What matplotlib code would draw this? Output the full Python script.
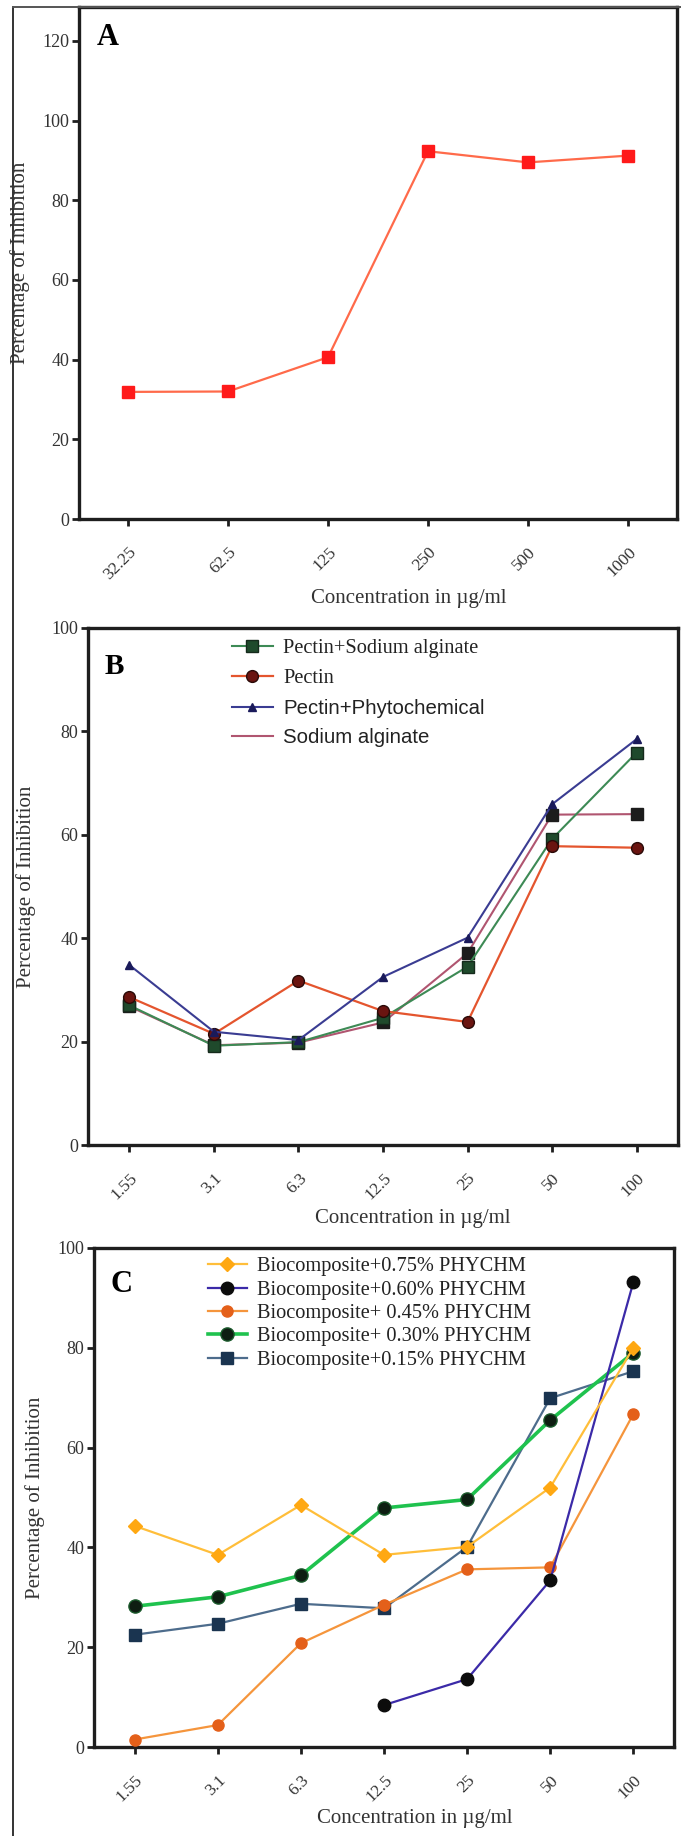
import numpy as np
import matplotlib
matplotlib.use("Agg")
import matplotlib.pyplot as plt
from matplotlib.lines import Line2D

# Panel A: single extract
conc_a = ["32.25", "62.5", "125", "250", "500", "1000"]
inhib_a = [31.9, 32.0, 40.6, 92.3, 89.5, 91.2]

# Panel B: polymer blends
conc_b = ["1.55", "3.1", "6.3", "12.5", "25", "50", "100"]
pectin_alginate = [27.0, 19.2, 19.9, 24.6, 34.5, 59.2, 75.9]
pectin = [28.6, 21.5, 31.8, 25.9, 23.8, 57.8, 57.5]
pectin_phyto = [34.8, 21.9, 20.3, 32.5, 40.1, 65.9, 78.5]
sodium_alginate = [26.8, 19.3, 19.8, 23.7, 37.1, 63.9, 64.0]

# Panel C: biocomposite with phytochemical loadings
conc_c = ["1.55", "3.1", "6.3", "12.5", "25", "50", "100"]
bio_075 = [44.3, 38.5, 48.5, 38.5, 40.1, 52.0, 80.0]
bio_060 = [np.nan, np.nan, np.nan, 8.4, 13.6, 33.4, 93.1]
bio_045 = [1.5, 4.4, 20.8, 28.5, 35.6, 36.0, 66.7]
bio_030 = [28.2, 30.1, 34.4, 47.9, 49.6, 65.5, 79.0]
bio_015 = [22.5, 24.7, 28.7, 27.8, 40.1, 69.9, 75.3]

W, H = 681, 1836
SERIF = "Liberation Serif"
SANS = "Liberation Sans"
plt.rcParams["font.family"] = SERIF
plt.rcParams["font.size"] = 13

fig = plt.figure(figsize=(W / 100, H / 100), dpi=100)


def px_axes(left, top, right, bottom):
    return fig.add_axes([left / W, 1 - bottom / H, (right - left) / W, (bottom - top) / H])


def style_axes(ax, labels, ylim, yticks, box, ylab_x, xlab_xy):
    left, top, right, bottom = box
    for sp in ax.spines.values():
        sp.set_linewidth(2.4)
        sp.set_color("#1e1e1e")
    ax.set_xticks(range(len(labels)))
    ax.set_xticklabels(labels, rotation=45, ha="right", rotation_mode="anchor",
                       color="#333333", fontsize=12.5)
    ax.set_xlim(-0.49, len(labels) - 0.51)
    ax.set_ylim(*ylim)
    ax.set_yticks(yticks)
    ax.tick_params(axis="both", direction="out", length=5, width=2, color="#1e1e1e",
                   labelcolor="#333333", labelsize=13)
    ax.tick_params(axis="x", pad=13, labelsize=12.5)
    ax.tick_params(axis="y", pad=2)
    w, h = right - left, bottom - top
    ax.set_ylabel("Percentage of Inhibition", fontsize=15, color="#333333", va="center")
    ax.yaxis.set_label_coords((ylab_x - left) / w, 0.5)
    ax.set_xlabel("Concentration in µg/ml", fontsize=15, color="#333333", va="center")
    ax.xaxis.set_label_coords((xlab_xy[0] - left) / w, -(xlab_xy[1] - bottom) / h)


# ---- A ----
box_a = (79, 7, 677, 519)
ax_a = px_axes(*box_a)
x = np.arange(len(conc_a))
ax_a.plot(x, inhib_a, color="#ff6a4a", lw=1.6, marker="s", ms=9,
          mfc="#ff1a1a", mec="#ff1a1a", zorder=3)
style_axes(ax_a, conc_a, (0, 128.5), [0, 20, 40, 60, 80, 100, 120],
           box_a, 20, (409, 599))
ax_a.text(0.03, 0.94, "A", transform=ax_a.transAxes, fontsize=22,
          fontweight="bold", va="center", ha="left")

# ---- B ----
box_b = (88, 628, 678, 1145)
ax_b = px_axes(*box_b)
x = np.arange(len(conc_b))
ax_b.plot(x, sodium_alginate, color="#b05570", lw=1.5, marker="s", ms=8,
          mfc="#1c1c1c", mec="#1c1c1c", zorder=3)
ax_b.plot(x, pectin_alginate, color="#3d8a55", lw=1.5, marker="s", ms=8,
          mfc="#1f4a2c", mec="#152a1c", zorder=4)
ax_b.plot(x, pectin, color="#e4552e", lw=1.6, marker="o", ms=8.5,
          mfc="#6a1410", mec="#2a0a08", zorder=5)
ax_b.plot(x, pectin_phyto, color="#3a3c92", lw=1.5, marker="^", ms=5.5,
          mfc="#1a1a5a", mec="#1a1a5a", zorder=6)
style_axes(ax_b, conc_b, (0, 100), [0, 20, 40, 60, 80, 100],
           box_b, 26, (413, 1218))
ax_b.text(0.028, 0.925, "B", transform=ax_b.transAxes, fontsize=21,
          fontweight="bold", va="center", ha="left")

handles_b = [
    Line2D([], [], color="#3d8a55", lw=1.5, marker="s", ms=8, mfc="#1f4a2c", mec="#152a1c"),
    Line2D([], [], color="#e4552e", lw=1.6, marker="o", ms=8.5, mfc="#6a1410", mec="#2a0a08"),
    Line2D([], [], color="#3a3c92", lw=1.5, marker="^", ms=5.5, mfc="#1a1a5a", mec="#1a1a5a"),
    Line2D([], [], color="#b05570", lw=1.5),
]
labels_b = ["Pectin+Sodium alginate", "Pectin", "Pectin+Phytochemical", "Sodium alginate"]
leg_b = ax_b.legend(handles_b, labels_b, loc="upper left",
                    bbox_to_anchor=((232 - 88) / 590, 1 - (639 - 628) / 517),
                    frameon=False, fontsize=14.7, handlelength=2.0, handletextpad=0.5,
                    labelspacing=0.52, borderpad=0, borderaxespad=0)
for t in leg_b.get_texts():
    t.set_color("#222222")
for t in leg_b.get_texts()[2:]:
    t.set_fontfamily(SANS)

# ---- C ----
box_c = (94, 1248, 674, 1747)
ax_c = px_axes(*box_c)
x = np.arange(len(conc_c))
series_c = [
    ("Biocomposite+0.75% PHYCHM", bio_075,
     dict(color="#ffbe3a", lw=1.6, marker="D", ms=7.5, mfc="#ffa812", mec="#ffa812")),
    ("Biocomposite+0.60% PHYCHM", bio_060,
     dict(color="#3b2aa8", lw=1.6, marker="o", ms=9, mfc="#0c0c0c", mec="#0c0c0c")),
    ("Biocomposite+ 0.45% PHYCHM", bio_045,
     dict(color="#f5953c", lw=1.6, marker="o", ms=8, mfc="#e4601a", mec="#e4601a")),
    ("Biocomposite+ 0.30% PHYCHM", bio_030,
     dict(color="#1fc24e", lw=2.6, marker="o", ms=9.5, mfc="#0e1e12", mec="#1b5a2c")),
    ("Biocomposite+0.15% PHYCHM", bio_015,
     dict(color="#4d6c8c", lw=1.6, marker="s", ms=8, mfc="#1a3450", mec="#1a3450")),
]
handles_c = []
for z, (name, vals, kw) in enumerate(series_c):
    h, = ax_c.plot(x, vals, label=name, zorder=8 - z, **kw)
    handles_c.append(h)
style_axes(ax_c, conc_c, (0, 100), [0, 20, 40, 60, 80, 100],
           box_c, 35, (415, 1818))
ax_c.text(0.028, 0.926, "C", transform=ax_c.transAxes, fontsize=22,
          fontweight="bold", va="center", ha="left")
leg_c = ax_c.legend(handles_c, [s[0] for s in series_c], loc="upper left",
                    bbox_to_anchor=((208 - 94) / 580, 1 - (1257 - 1248) / 499),
                    frameon=False, fontsize=14.7, handlelength=1.9, handletextpad=0.5,
                    labelspacing=0.2, borderpad=0, borderaxespad=0)
for t in leg_c.get_texts():
    t.set_color("#222222")

# outer frame around the whole figure
fig.add_artist(Line2D([13 / W, 13 / W], [0, 1 - 7 / H], transform=fig.transFigure,
                      color="#333333", lw=1.4))
fig.add_artist(Line2D([13 / W, 1], [1 - 7 / H, 1 - 7 / H], transform=fig.transFigure,
                      color="#555555", lw=1.4))

fig.savefig("out.png", dpi=100, facecolor="white")
